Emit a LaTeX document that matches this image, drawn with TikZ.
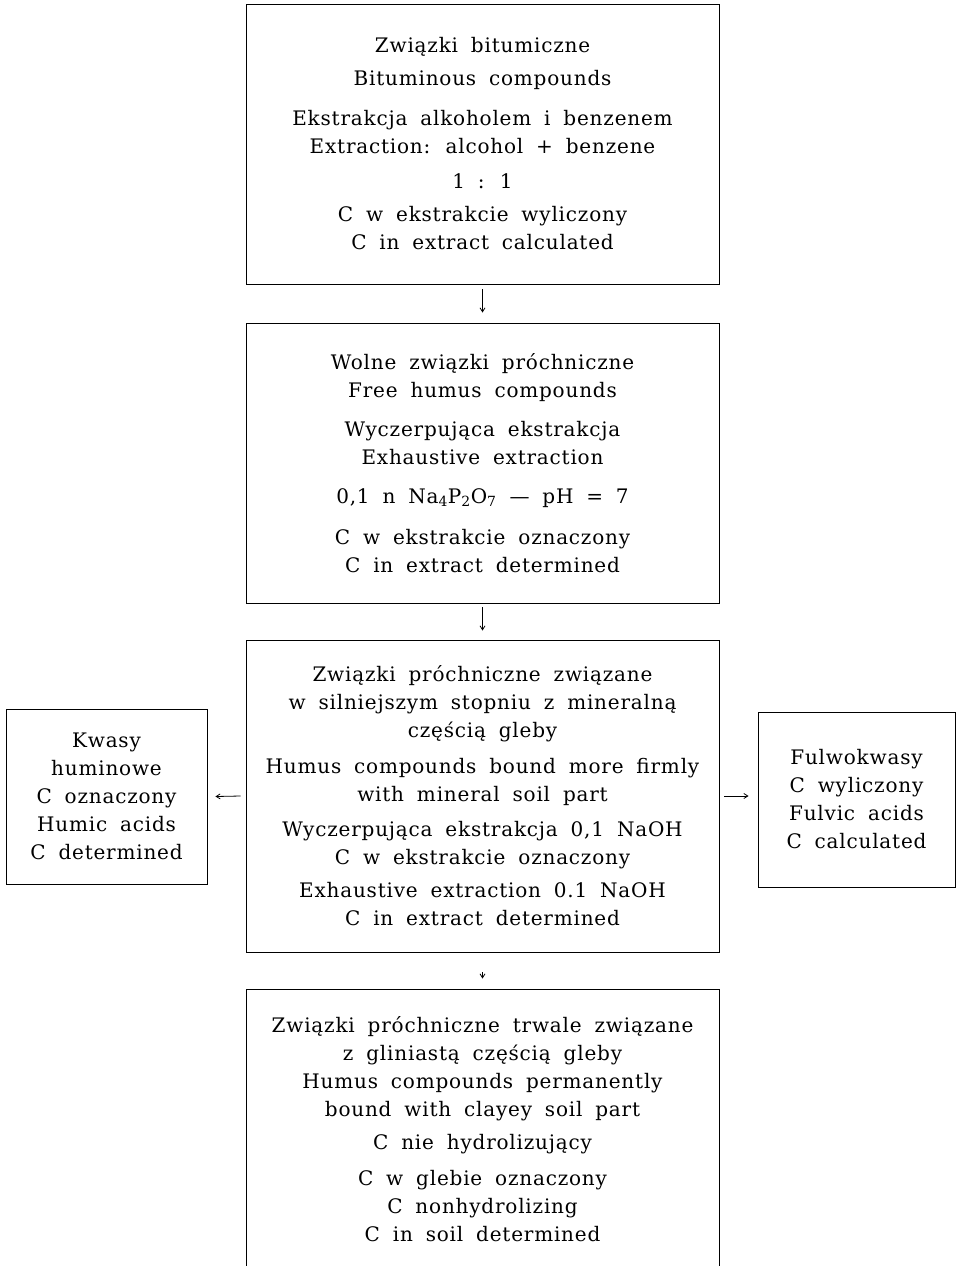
\documentclass[tikz,border=0pt]{standalone}
\usepackage{fontspec}
\setmainfont[LetterSpace=4, WordSpace=1.8]{DejaVu Serif}
\usetikzlibrary{arrows.meta, positioning}
\begin{document}
\begin{tikzpicture}[
        x=1pt, y=-1pt,
        box/.style={rectangle, draw, line width=0.9pt, minimum width=473pt, align=center, inner sep=0pt, font=\fontsize{20}{28}\selectfont},
        side/.style={box, minimum width=199pt, minimum height=175pt},
        arr/.style={-{Straight Barb[length=4pt, width=5pt]}, line width=0.8pt},
    ]
    \useasboundingbox (0,0) rectangle (962,1266);
    \node[box, minimum height=280pt] (bitum) at (482.5,144) {Związki bitumiczne\\[5pt] Bituminous compounds\\[12pt] Ekstrakcja alkoholem i benzenem\\ Extraction: alcohol + benzene\\[7pt] 1 : 1\\[5pt] C w ekstrakcie wyliczony\\ C in extract calculated};
    \node[box, minimum height=280pt] (free) at (482.5,463) {Wolne związki próchniczne\\ Free humus compounds\\[11pt] Wyczerpująca ekstrakcja\\ Exhaustive extraction\\[11pt] 0,1 n Na\textsubscript{4}P\textsubscript{2}O\textsubscript{7} --- pH = 7\\[13pt] C w ekstrakcie oznaczony\\ C in extract determined};
    \node[box, minimum height=312pt] (bound) at (482.5,796) {Związki próchniczne związane\\ w silniejszym stopniu z mineralną\\ częścią gleby\\[8pt] Humus compounds bound more firmly\\ with mineral soil part\\[7pt] Wyczerpująca ekstrakcja 0,1 NaOH\\ C w ekstrakcie oznaczony\\[5pt] Exhaustive extraction 0.1 NaOH\\ C in extract determined};
    \node[box, minimum height=280pt] (clay) at (482.5,1129) {Związki próchniczne trwale związane\\ z gliniastą częścią gleby\\ Humus compounds permanently\\ bound with clayey soil part\\[5pt] C nie hydrolizujący\\[8pt] C w glebie oznaczony\\ C nonhydrolizing\\ C in soil determined};
    \node[side, minimum width=201pt] (humic) at (106.5,796.5) {Kwasy\\ huminowe\\ C oznaczony\\ Humic acids\\ C determined};
    \node[side, minimum width=197pt] (fulvic) at (856.5,799.5) {Fulwokwasy\\ C wyliczony\\ Fulvic acids\\ C calculated};

    \draw[arr] ([yshift=-5pt]bitum.south) -- ([yshift=10pt]free.north);
    \draw[arr] ([yshift=-4pt]free.south) -- ([yshift=9pt]bound.north);
    \draw[arr] ([yshift=-20pt]bound.south) -- ([yshift=10pt]clay.north);
    \draw[arr] ([xshift=-5pt]bound.west) -- ([xshift=8pt]humic.east);
    \draw[arr] ([xshift=5pt]bound.east) -- ([xshift=-9pt]bound.east -| fulvic.west);
\end{tikzpicture}
\end{document}
